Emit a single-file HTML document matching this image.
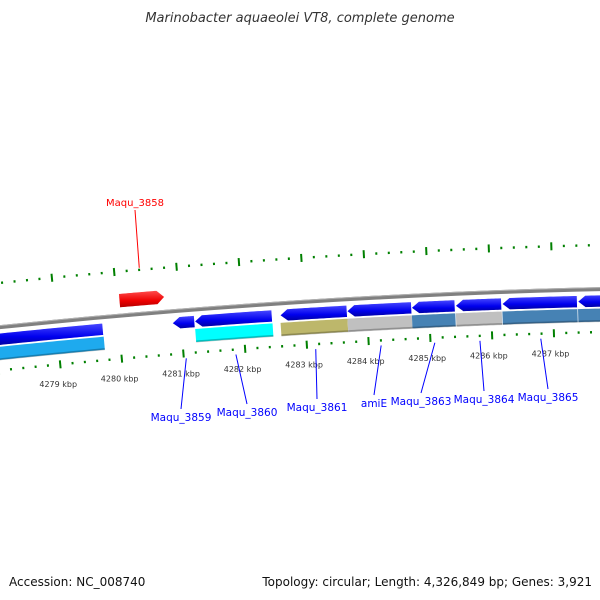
<!DOCTYPE html>
<html><head><meta charset="utf-8"><style>
body{margin:0;background:#fff;}
svg{display:block;font-family:"DejaVu Sans","Liberation Sans",sans-serif;}
</style></head><body>
<svg id="c" width="600" height="600" viewBox="0 0 600 600">
<defs>
<linearGradient id="gb" x1="0" y1="0" x2="0" y2="1"><stop offset="0" stop-color="#4a4aff"/><stop offset="0.6" stop-color="#0000ee"/><stop offset="1" stop-color="#0000a0"/></linearGradient>
<linearGradient id="gr" x1="0" y1="0" x2="0" y2="1"><stop offset="0" stop-color="#ff5050"/><stop offset="0.6" stop-color="#ee0000"/><stop offset="1" stop-color="#b00000"/></linearGradient>
</defs>
<text x="300" y="22" text-anchor="middle" font-size="13" font-style="italic" fill="#333">Marinobacter aquaeolei VT8, complete genome</text>
<g id="g"></g>
<text x="9" y="586" font-size="12" fill="#111">Accession: NC_008740</text>
<text x="592" y="586" font-size="12" fill="#111" text-anchor="end">Topology: circular; Length: 4,326,849 bp; Genes: 3,921</text>
</svg>
<script>
const tickKbp=[4279,4280,4281,4282,4283,4284,4285,4286,4287];
const geneNames=["Maqu_3857","Maqu_3858","Maqu_3859","Maqu_3860","Maqu_3861","amiE","Maqu_3863","Maqu_3864","Maqu_3865","Maqu_3866"];
const geneStart=[4277.9,4280.04,4280.86,4281.22,4282.6,4283.68,4284.72,4285.43,4286.18,4287.4];
const geneEnd=[4279.74,4280.77,4281.22,4282.47,4283.68,4284.72,4285.42,4286.17,4287.39,4288.5];
const geneStrand=[-1,1,-1,-1,-1,-1,-1,-1,-1,-1];
const cogColor=["#1eaaee",null,null,"#00ffff","#bdb76b","#c0c0c0","#4682b4","#c0c0c0","#4682b4","#4682b4"];
const labelX=[null,135,181,247,317,374,421,484,548,null];
const labelY=[null,206,421,416,411,407,405,403,401,null];

const R=7500,CX=775,CY=7787,X0=55,PX=62.2;
function sOf(k){return X0+(k-4279)*PX;}
function pt(k,off){const a=(sOf(k)-CX)/R;const r=R+off;return [CX+r*Math.sin(a),CY-r*Math.cos(a)];}
function arcPath(k1,k2,off){let d="";const n=20;for(let i=0;i<=n;i++){const p=pt(k1+(k2-k1)*i/n,off);d+=(i?"L":"M")+p[0].toFixed(2)+","+p[1].toFixed(2);}return d;}
const g=document.getElementById("g");
const NS="http://www.w3.org/2000/svg";
function mk(t,a){const e=document.createElementNS(NS,t);for(const k in a)e.setAttribute(k,a[k]);g.appendChild(e);return e;}

let bb=mk("path",{d:arcPath(4277,4290,0),stroke:"#808080","stroke-width":4,fill:"none"});


let bb2=mk("path",{d:arcPath(4277,4290,1.5),stroke:"#b0b0b0","stroke-width":1,fill:"none"});



for(let k=42776;k<=42896;k+=2){
  const kb=k/10;const major=(k%10===0);
  [[44,"outer"],[-43,"inner"]].forEach(([off,nm])=>{
    const len=major?4:1.2;
    const a=pt(kb,off-len),b=pt(kb,off+len);
    const t=mk("line",{x1:a[0],y1:a[1],x2:b[0],y2:b[1],stroke:"#008000","stroke-width":2});
    
    
  });
}
tickKbp.forEach(k=>{
  const p=pt(k,-64);
  const t=mk("text",{x:p[0]-4,y:p[1]+2,"font-size":8,"text-anchor":"middle",fill:"#333"});
  t.textContent=k+" kbp";
  
  
});

geneStart.forEach((s,i)=>{
  const e=geneEnd[i],str=geneStrand[i];
  const o1=str>0?8:-6,o2=str>0?22:-18;
  const head=0.12;
  let d;
  if(str>0){
    const be=e-head;
    const a=pt(s,o1),tip=pt(e,(o1+o2)/2);
    d="M"+a[0]+","+a[1]+arcPath(s,be,o2).replace("M","L")+"L"+tip[0]+","+tip[1]+arcPath(be,s,o1).replace("M","L")+"Z";
  }else{
    const bs=s+head;
    const tip=pt(s,(o1+o2)/2);
    d="M"+tip[0]+","+tip[1]+arcPath(bs,e,o2).replace("M","L")+arcPath(e,bs,o1).replace("M","L")+"Z";
  }
  const p=mk("path",{d:d,fill:str>0?"url(#gr)":"url(#gb)",stroke:"#fff","stroke-width":0.6});
  
  
  if(cogColor[i]){
    const c=mk("path",{d:arcPath(s,e,-26),stroke:cogColor[i],"stroke-width":13,fill:"none"});
    
    
    const c2=mk("path",{d:arcPath(s,e,-32),stroke:"rgba(0,0,0,0.25)","stroke-width":2,fill:"none"});
    
    
  }
  if(labelX[i]!==null){
    const mid=(s+e)/2;
    const col=str>0?"#f00":"#00f";
    const a=str>0?pt(mid,46):pt(mid,-48);
    const ly=str>0?labelY[i]+4:labelY[i]-12;
    const l=mk("line",{x1:a[0],y1:a[1],x2:labelX[i],y2:ly,stroke:col,"stroke-width":1});
    
    
    const t=mk("text",{x:labelX[i],y:labelY[i],"font-size":str>0?10:10.5,"text-anchor":"middle",fill:col});
    t.textContent=geneNames[i];
    
    
  }
});
</script>
</body></html>
